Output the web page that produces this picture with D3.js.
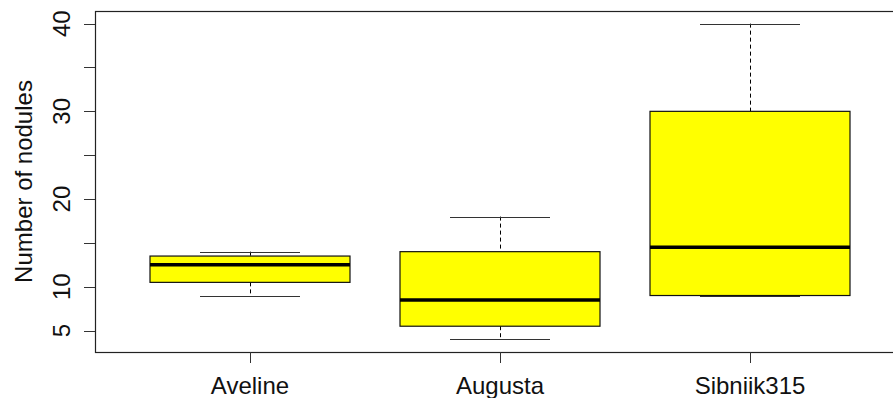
<!DOCTYPE html>
<html>
<head>
<meta charset="utf-8">
<script src="https://cdn.jsdelivr.net/npm/d3@7"></script>
<style>
  body { margin: 0; background: #fff; }
  text { font-family: "Liberation Sans", Arial, sans-serif; }
</style>
</head>
<body>
<div id="chart"></div>
<script>
(function(){
  var width = 893,
      height = 398;

  // data
  var varieties = ['Aveline', 'Augusta', 'Sibniik315'];
  var lowWhisker = [9, 4, 9];
  var lowerQuart = [10.5, 5.5, 9];
  var medians    = [12.5, 8.5, 14.5];
  var upperQuart = [13.5, 14, 30];
  var highWhisker = [14, 18, 40];
  var yTicks = [5, 10, 15, 20, 25, 30, 35, 40];
  var yTickLabels = [5, 10, 20, 30, 40];

  var boxes = varieties.map(function(v, i){
    return { name: v, i: i + 1, lo: lowWhisker[i], q1: lowerQuart[i], med: medians[i], q3: upperQuart[i], hi: highWhisker[i] };
  });

  var left = 95, top = 11, bottom = 352;

  var svg = d3.select('#chart')
    .append('svg')
    .attr('width', width)
    .attr('height', height);

  // R style: xlim 0.5..3.5 plus 4%
  var x = d3.scaleLinear().domain([0.38, 3.62]).range([left, 905]);
  var y = d3.scaleLinear().domain([2.56, 41.44]).range([bottom, top]);

  var halfBox = (x(1.4) - x(1)) , halfCap = (x(1.2) - x(1));
  var cx = function(d){ return Math.round(x(d.i)) + 0.5 };

  var g = svg.append('g');

  var bx = g.selectAll('.bx')
    .data(boxes)
    .enter().append('g')
    .attr('class', 'bx');

  // whiskers
  bx.append('line')
    .attr('x1', cx).attr('x2', cx)
    .attr('y1', function(d){ return y(d.hi) }).attr('y2', function(d){ return y(d.q3) })
    .attr('stroke', '#000').attr('stroke-dasharray', '4,3');
  bx.append('line')
    .attr('x1', cx).attr('x2', cx)
    .attr('y1', function(d){ return y(d.q1) }).attr('y2', function(d){ return y(d.lo) })
    .attr('stroke', '#000').attr('stroke-dasharray', '4,3');
  // caps
  bx.append('line')
    .attr('x1', function(d){ return x(d.i) - halfCap }).attr('x2', function(d){ return x(d.i) + halfCap })
    .attr('y1', function(d){ return Math.round(y(d.hi)) + 0.5 }).attr('y2', function(d){ return Math.round(y(d.hi)) + 0.5 })
    .attr('stroke', '#333');
  bx.append('line')
    .attr('x1', function(d){ return x(d.i) - halfCap }).attr('x2', function(d){ return x(d.i) + halfCap })
    .attr('y1', function(d){ return Math.round(y(d.lo)) + 0.5 }).attr('y2', function(d){ return Math.round(y(d.lo)) + 0.5 })
    .attr('stroke', '#333');
  // box
  bx.append('rect')
    .attr('x', function(d){ return x(d.i) - halfBox })
    .attr('width', 2 * halfBox)
    .attr('y', function(d){ return y(d.q3) })
    .attr('height', function(d){ return y(d.q1) - y(d.q3) })
    .attr('fill', '#ffff00')
    .attr('stroke', '#111')
    .attr('stroke-width', 1.2);
  // median
  bx.append('line')
    .attr('x1', function(d){ return x(d.i) - halfBox }).attr('x2', function(d){ return x(d.i) + halfBox })
    .attr('y1', function(d){ return y(d.med) }).attr('y2', function(d){ return y(d.med) })
    .attr('stroke', '#000').attr('stroke-width', 3.5);

  // frame
  g.append('rect')
    .attr('x', left + 0.5).attr('y', top + 0.5)
    .attr('width', x(3.62) - left).attr('height', bottom - top)
    .attr('fill', 'none').attr('stroke', '#222').attr('stroke-width', 1.2);

  // y axis ticks
  g.selectAll('.yt')
    .data(yTicks)
    .enter().append('line')
    .attr('x1', left - 11).attr('x2', left)
    .attr('y1', function(d){ return Math.round(y(d)) + 0.5 })
    .attr('y2', function(d){ return Math.round(y(d)) + 0.5 })
    .attr('stroke', '#333');
  g.selectAll('.yl')
    .data(yTickLabels)
    .enter().append('text')
    .attr('transform', function(d){ return 'translate(70,' + y(d) + ') rotate(-90)' })
    .attr('text-anchor', 'middle')
    .attr('font-size', 24)
    .attr('fill', '#111')
    .text(function(d){ return d });

  // x axis ticks and labels
  g.selectAll('.xt')
    .data(boxes)
    .enter().append('line')
    .attr('x1', cx).attr('x2', cx)
    .attr('y1', bottom).attr('y2', bottom + 11)
    .attr('stroke', '#333');
  g.selectAll('.xl')
    .data(boxes)
    .enter().append('text')
    .attr('x', function(d){ return x(d.i) })
    .attr('y', 394)
    .attr('text-anchor', 'middle')
    .attr('font-size', 24)
    .attr('fill', '#111')
    .text(function(d){ return d.name });

  // y title
  g.append('text')
    .attr('transform', 'translate(32,' + (top + bottom) / 2 + ') rotate(-90)')
    .attr('text-anchor', 'middle')
    .attr('font-size', 24)
    .attr('fill', '#111')
    .text('Number of nodules');
})()
</script>
</body>
</html>
